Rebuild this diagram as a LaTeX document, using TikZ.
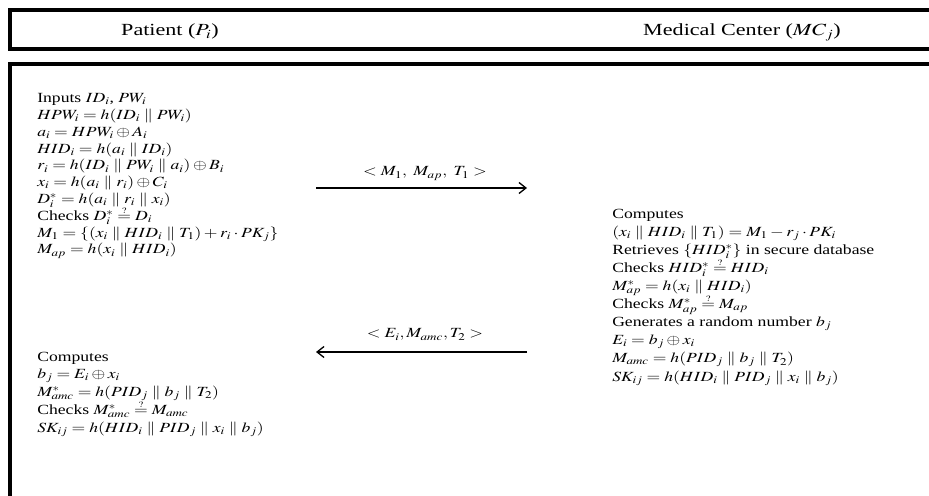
\documentclass[tikz,border=0pt]{standalone}
\usepackage{mathptmx}
\usepackage[no-math]{fontspec}
\setmainfont{Liberation Serif}
\usetikzlibrary{arrows.meta}

% body font with a fixed distance between baselines
\newcommand\stepfont[1]{\fontsize{14bp}{#1}\selectfont
  \lineskiplimit=-100bp\relax\lineskip=0bp\relax}
% equality to be checked: a small question mark just above "="
\newcommand\qeq{\mathrel{\stackrel{\raisebox{-0.55ex}{$\scriptscriptstyle ?$}}{=}}}

\tikzset{
  frame/.style={line width=3.2bp},
  msg/.style={line width=1.3bp, -{Straight Barb[length=7bp,width=11bp,line width=1.3bp]}},
  wide/.style={xscale=1.26, transform shape},
  steps/.style={wide, anchor=base west, align=left, inner sep=0pt,
    font={\stepfont{#1}}},
  steps/.default=16.8bp,
  title/.style={anchor=base, inner sep=0pt, xscale=1.3, transform shape,
    font={\fontsize{17bp}{20bp}\selectfont}},
  msglabel/.style={wide, anchor=base, inner sep=0pt, font={\stepfont{16.8bp}}},
}

\begin{document}
\begin{tikzpicture}[x=1bp,y=-1bp]
\useasboundingbox (0,0) rectangle (929,496);
\clip (0,0) rectangle (929,496);

% header and body frames
\draw[frame] (10,10) rectangle (960,49);
\draw[frame] (10,64) rectangle (960,530);

\node[title] (pt) at (170,36) {Patient ($P_i$)};
\node[title] (mc) at (742,36) {Medical Center ($MC_j$)};

% patient, first phase (anchored at the baseline of its last line)
\node[steps] (p1) at (37,254) {%
Inputs $ID_i$, $PW_i$\\
$HPW_i = h(ID_i \parallel PW_i)$\\
$a_i = HPW_i \oplus A_i$\\
$HID_i = h(a_i \parallel ID_i)$\\
$r_i = h(ID_i \parallel PW_i \parallel a_i) \oplus B_i$\\
$x_i = h(a_i \parallel r_i) \oplus C_i$\\
$D_i^{*} = h(a_i \parallel r_i \parallel x_i)$\\
Checks $D_i^{*} \qeq D_i$\\
$M_1 = \{(x_i \parallel HID_i \parallel T_1) + r_i \cdot PK_j\}$\\
$M_{ap} = h(x_i \parallel HID_i)$};

% medical center
\node[steps=18.1bp] (m1) at (612,381) {%
Computes\\
$(x_i \parallel HID_i \parallel T_1) = M_1 - r_j \cdot PK_i$\\
Retrieves $\{HID_i^{*}\}$ in secure database\\
Checks $HID_i^{*} \qeq HID_i$\\
$M_{ap}^{*} = h(x_i \parallel HID_i)$\\
Checks $M_{ap}^{*} \qeq M_{ap}$\\
Generates a random number $b_j$\\
$E_i = b_j \oplus x_i$\\
$M_{amc} = h(PID_j \parallel b_j \parallel T_2)$\\
$SK_{ij} = h(HID_i \parallel PID_j \parallel x_i \parallel b_j)$};

% patient, second phase
\node[steps=17.75bp] (p2) at (37,432) {%
Computes\\
$b_j = E_i \oplus x_i$\\
$M_{amc}^{*} = h(PID_j \parallel b_j \parallel T_2)$\\
Checks $M_{amc}^{*} \qeq M_{amc}$\\
$SK_{ij} = h(HID_i \parallel PID_j \parallel x_i \parallel b_j)$};

% messages
\coordinate (m1a) at (316,188);
\coordinate (m1b) at (527,188);
\draw[msg] (m1a) -- (m1b);
\node[msglabel] (l1) at (425,176) {$<M_1,\ M_{ap},\ T_1>$};

\coordinate (m2a) at (527,352);
\coordinate (m2b) at (316,352);
\draw[msg] (m2a) -- (m2b);
\node[msglabel] (l2) at (425,338) {$<E_i, M_{amc}, T_2>$};
\end{tikzpicture}
\end{document}
